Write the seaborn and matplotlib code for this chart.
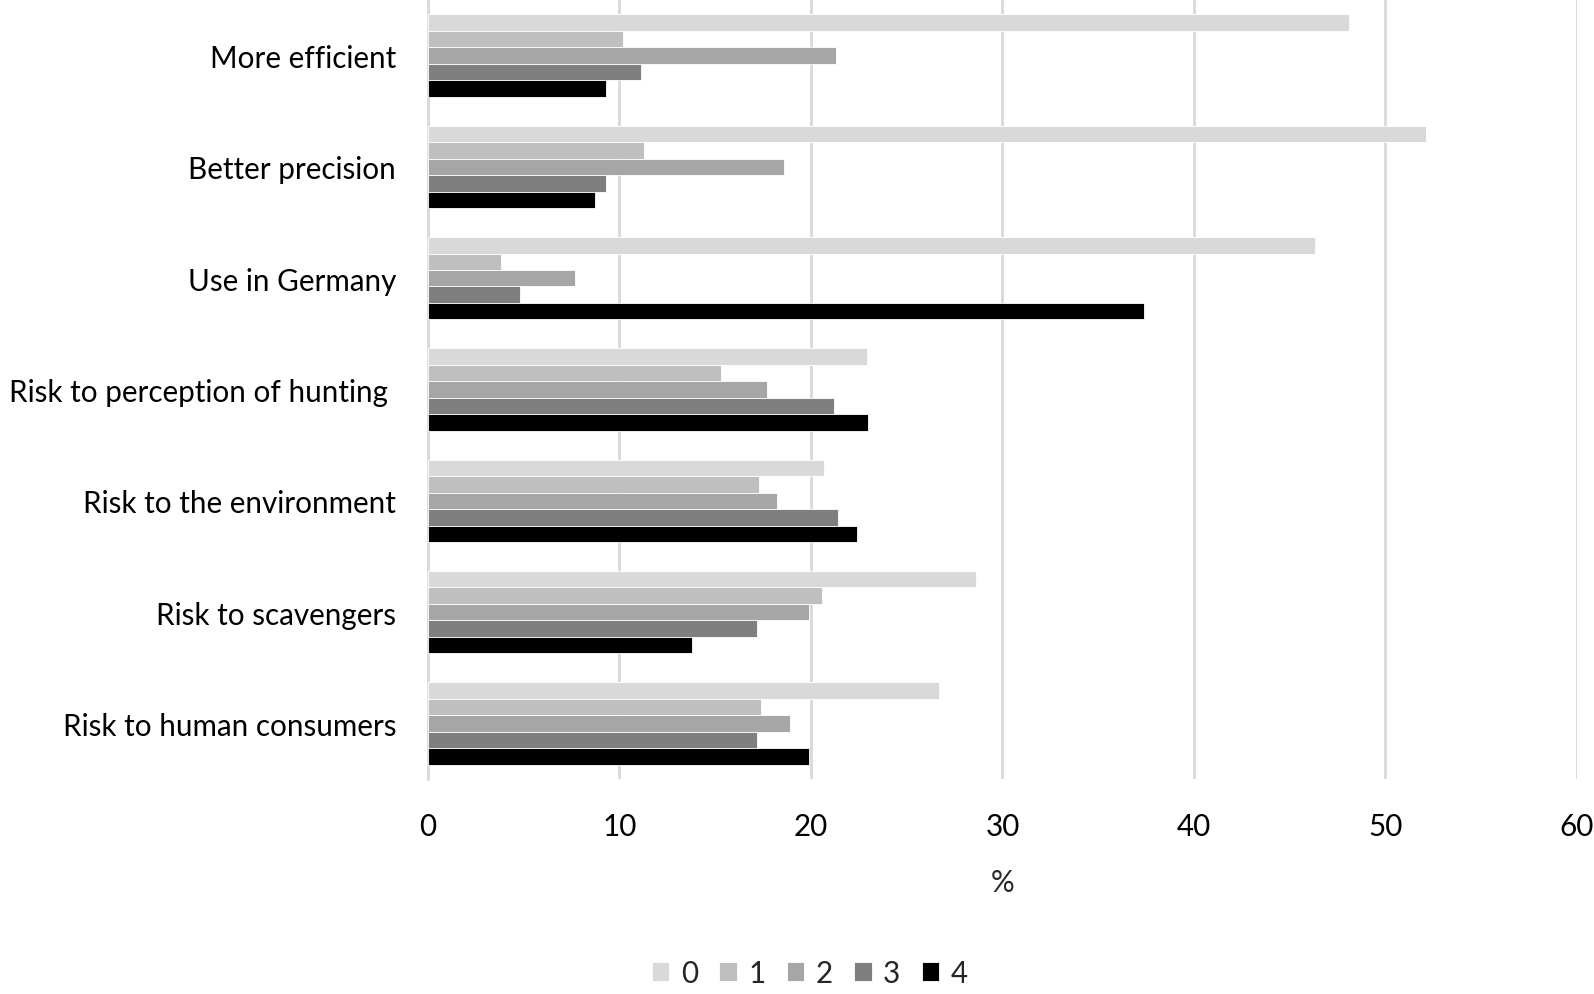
import pandas as pd
import matplotlib.pyplot as plt
import seaborn as sns

# ---- data ----
categories = ["More efficient", "Better precision", "Use in Germany",
              "Risk to perception of hunting ", "Risk to the environment",
              "Risk to scavengers", "Risk to human consumers"]
levels = ["0", "1", "2", "3", "4"]

score_0 = [48.1, 52.1, 46.3, 22.9, 20.7, 28.6, 26.7]
score_1 = [10.2, 11.3, 3.8, 15.3, 17.3, 20.6, 17.4]
score_2 = [21.3, 18.6, 7.7, 17.7, 18.2, 19.9, 18.9]
score_3 = [11.1, 9.3, 4.8, 21.2, 21.4, 17.2, 17.2]
score_4 = [9.3, 8.7, 37.4, 23.0, 22.4, 13.8, 19.9]

colors = ["#d9d9d9", "#bfbfbf", "#a6a6a6", "#7f7f7f", "#000000"]

# long table for seaborn
rows = []
for lvl, vals in zip(levels, [score_0, score_1, score_2, score_3, score_4]):
    for cat, v in zip(categories, vals):
        rows.append({"item": cat, "score": lvl, "pct": v})
df = pd.DataFrame(rows)

sns.set_style("white")
plt.rcParams["font.family"] = ["Lato", "DejaVu Sans"]
fs = 21.3

fig = plt.figure(figsize=(15.94, 9.95), dpi=100)
ax = fig.add_axes([0.2685, 0.216, 0.7208, 0.783])

sns.barplot(data=df, x="pct", y="item", hue="score", order=categories,
            hue_order=levels, palette=colors, orient="h", width=0.74,
            edgecolor="white", linewidth=0.6, ax=ax, zorder=3)

ax.set_xlim(0, 60)
ax.set_xticks(range(0, 61, 10))
ax.grid(axis="x", color="#d9d9d9", linewidth=2, zorder=0)
ax.set_axisbelow(True)
for s in ["top", "right", "bottom"]:
    ax.spines[s].set_visible(False)
ax.spines["left"].set_color("#d9d9d9")
ax.spines["left"].set_linewidth(2)
ax.tick_params(axis="both", length=0, labelsize=fs, colors="black")
ax.tick_params(axis="y", pad=23)
ax.tick_params(axis="x", pad=24)
ax.set_ylabel("")
ax.set_xlabel("%", fontsize=fs, labelpad=20)

handles, labels = ax.get_legend_handles_labels()
ax.legend_.remove()
fig.legend(handles, labels, loc="center", bbox_to_anchor=(0.508, 0.021),
           ncol=5, frameon=False, fontsize=fs, handlelength=0.6,
           handleheight=0.6, handletextpad=0.38, columnspacing=0.72)

fig.savefig("out.png", dpi=100)
